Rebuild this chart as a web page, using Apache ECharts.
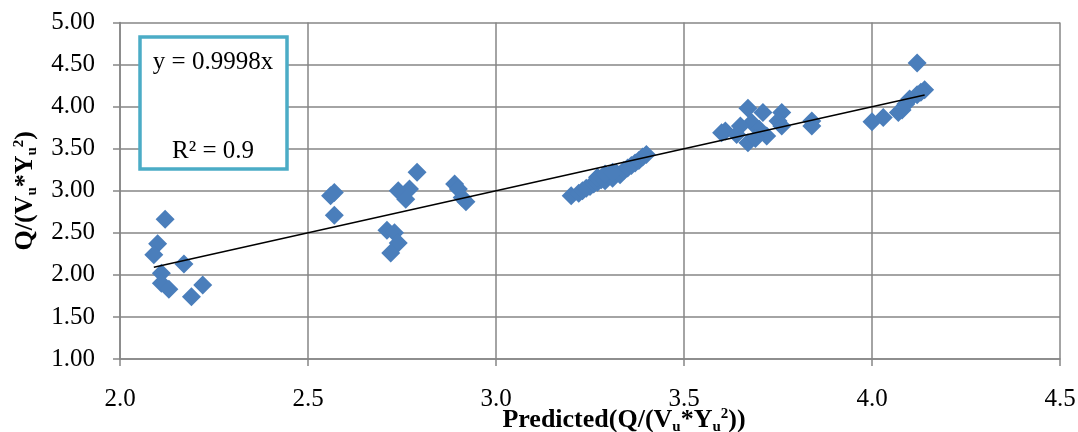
<!DOCTYPE html>
<html>
<head>
<meta charset="utf-8">
<script src="https://cdn.jsdelivr.net/npm/echarts@6/dist/echarts.min.js"></script>
<style>html,body{margin:0;padding:0;background:#fff;}#c{width:1078px;height:432px;}</style>
</head>
<body>
<div id="c"></div>
<script>
// Observed points (predicted, observed)
const predicted = [
  2.12, 2.10, 2.09, 2.17, 2.11, 2.11, 2.13, 2.19, 2.22,
  2.57, 2.56, 2.57, 2.79, 2.74, 2.77, 2.76, 2.71, 2.73, 2.74, 2.72, 2.89, 2.90, 2.91, 2.92,
  3.20, 3.22, 3.23, 3.24, 3.25, 3.26, 3.27, 3.28, 3.27, 3.29, 3.30, 3.31, 3.32, 3.33, 3.34, 3.35, 3.36, 3.37, 3.38, 3.39, 3.40, 3.29, 3.31,
  3.67, 3.61, 3.60, 3.71, 3.76, 3.75, 3.68, 3.65, 3.67, 3.72, 3.70, 3.84, 3.84, 3.64, 3.76, 3.69,
  4.12, 4.00, 4.03, 4.08, 4.07, 4.10, 4.12, 4.14, 4.09, 4.13
];
const observed = [
  2.66, 2.37, 2.24, 2.13, 2.02, 1.90, 1.83, 1.74, 1.88,
  2.98, 2.94, 2.71, 3.22, 3.00, 3.02, 2.90, 2.53, 2.50, 2.38, 2.26, 3.08, 3.02, 2.92, 2.87,
  2.94, 2.97, 3.00, 3.03, 3.05, 3.08, 3.10, 3.13, 3.16, 3.12, 3.18, 3.15, 3.21, 3.19, 3.24, 3.27, 3.30, 3.33, 3.36, 3.40, 3.43, 3.20, 3.22,
  3.98, 3.71, 3.69, 3.93, 3.93, 3.83, 3.81, 3.77, 3.57, 3.65, 3.73, 3.83, 3.77, 3.67, 3.77, 3.62,
  4.52, 3.82, 3.87, 3.96, 3.93, 4.09, 4.14, 4.20, 4.03, 4.17
];
// Linear trendline through origin: y = 0.9998x
const trendX = [2.09, 4.14];
const trendY = [2.0896, 4.1392];
const xTicks = ['2.0','2.5','3.0','3.5','4.0','4.5'];
const yTicks = ['1.00','1.50','2.00','2.50','3.00','3.50','4.00','4.50','5.00'];
const eqText = 'y = 0.9998x';
const r2Text = 'R² = 0.9';

const font = 'Liberation Serif';
const chart = echarts.init(document.getElementById('c'));
const pts = predicted.map((x, i) => [x, observed[i]]);
const trend = trendX.map((x, i) => [x, trendY[i]]);
const gridLine = { lineStyle: { color: '#868686', width: 1.5 } };
const rich = {
  b: { fontFamily: font, fontWeight: 'bold', fontSize: 26, color: '#000' },
  s: { fontFamily: font, fontWeight: 'bold', fontSize: 15, color: '#000', padding: [14, 0, 0, 0] },
  p: { fontFamily: font, fontWeight: 'bold', fontSize: 15, color: '#000', padding: [0, 0, 12, 0] }
};
chart.setOption({
  animation: false,
  grid: { left: 120, right: 18, top: 22.5, bottom: 73, outerBoundsMode: 'none', containLabel: false },
  xAxis: {
    type: 'value', min: 2.0, max: 4.5, interval: 0.5,
    axisLine: { show: true, lineStyle: { color: '#868686', width: 1.5 } },
    axisTick: { show: true, inside: false, length: 7, lineStyle: { color: '#868686', width: 1.5 } },
    splitLine: Object.assign({ show: true }, gridLine),
    axisLabel: {
      margin: 28, fontFamily: font, fontSize: 25, color: '#000',
      formatter: v => xTicks[Math.round((v - 2.0) / 0.5)]
    },
    name: '{b|Predicted(Q/(V}{s|u}{b|*Y}{s|u}{p|2}{b|))}',
    nameLocation: 'middle', nameGap: 47, nameMoveOverlap: false,
    nameTextStyle: { rich: rich, padding: [0, 0, 0, 68] }
  },
  yAxis: {
    type: 'value', min: 1.0, max: 5.0, interval: 0.5,
    axisLine: { show: true, lineStyle: { color: '#868686', width: 1.5 } },
    axisTick: { show: true, inside: false, length: 7, lineStyle: { color: '#868686', width: 1.5 } },
    splitLine: Object.assign({ show: true }, gridLine),
    axisLabel: {
      margin: 25, fontFamily: font, fontSize: 25, color: '#000',
      formatter: v => yTicks[Math.round((v - 1.0) / 0.5)]
    },
    name: '{b|Q/(V}{s|u}{b|*Y}{s|u}{p|2}{b|)}',
    nameLocation: 'middle', nameGap: 80, nameRotate: 90, nameMoveOverlap: false,
    nameTextStyle: { rich: rich }
  },
  series: [
    {
      type: 'scatter', data: pts, symbol: 'diamond', symbolSize: 19,
      itemStyle: { color: '#4a7ebb', opacity: 1 }, z: 3
    },
    {
      type: 'line', data: trend, symbol: 'none',
      lineStyle: { color: '#000', width: 1.5 }, z: 4
    }
  ],
  graphic: [
    { type: 'rect', z: 10, shape: { x: 140, y: 37, width: 147, height: 132 },
      style: { fill: '#fff', stroke: '#4bacc6', lineWidth: 3.5 } },
    { type: 'text', z: 11, x: 213, y: 62,
      style: { text: eqText, fontFamily: font, fontSize: 25, fill: '#000', textAlign: 'center', textVerticalAlign: 'middle' } },
    { type: 'text', z: 11, x: 213, y: 151,
      style: { text: r2Text, fontFamily: font, fontSize: 25, fill: '#000', textAlign: 'center', textVerticalAlign: 'middle' } }
  ]
});
</script>
</body>
</html>
